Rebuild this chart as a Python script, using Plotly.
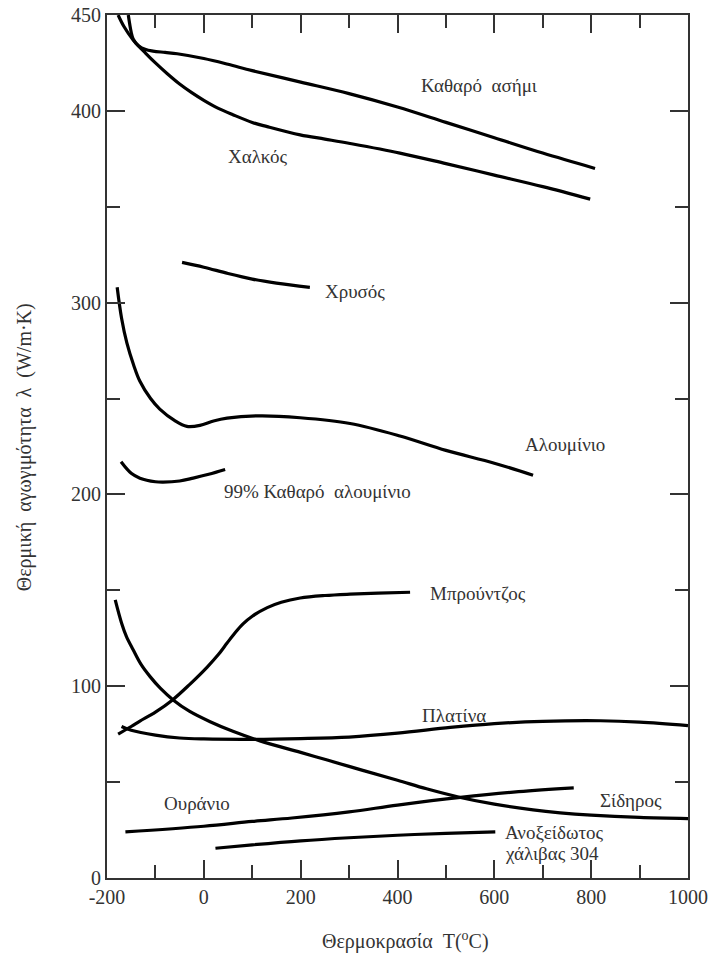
import plotly.graph_objects as go

# ---- data (T in °C, lambda in W/m·K) ----
silver_T = [-156, -150, -146, -135, -120, -105, -80, -55, 0, 50, 100, 200, 300, 400, 500, 600, 700, 808]
silver_k = [450, 441, 437.5, 434, 432, 431.2, 430.5, 429.8, 427.3, 424.3, 421, 415, 409, 402, 394, 386, 378, 370]

copper_T = [-177, -165, -146, -120, -100, -76, -50, -25, 0, 30, 60, 100, 131, 199, 250, 302, 405, 500, 600, 700, 798]
copper_k = [450, 444, 437, 430, 425, 419.5, 414, 409.5, 405.5, 401.3, 398, 394, 391.8, 387.5, 385.3, 383, 378, 372.5, 366.5, 360.5, 354]

gold_T = [-45, 0, 50, 100, 150, 219]
gold_k = [321, 318.5, 315.2, 312.3, 310.2, 308]

alu_T = [-179, -170, -159, -145, -132, -110, -91, -60, -35, -8, 20, 48, 116, 199, 302, 405, 500, 600, 680]
alu_k = [308, 292, 279, 267.5, 259, 250, 244.5, 238.5, 235.5, 236, 238.3, 239.8, 241, 240, 237, 230.5, 223, 216.3, 210]

alu99_T = [-171, -150, -132, -100, -84, -50, -22, 10, 44]
alu99_k = [217, 211, 208.5, 206.6, 206.4, 207, 208.5, 210.5, 213]

brass_T = [-177, -150, -132, -100, -64, -29, 7, 30, 48, 65, 81, 100, 131, 160, 199, 250, 302, 360, 426]
brass_k = [75, 79, 81.8, 86.5, 93, 101, 110, 116.5, 122.5, 128, 132.5, 136.5, 141, 143.8, 146, 147.3, 148, 148.5, 149]

platinum_T = [-170, -150, -100, -50, 0, 100, 200, 300, 400, 509, 600, 700, 819, 900, 1000]
platinum_k = [79, 77, 74.5, 73, 72.5, 72.3, 72.7, 73.5, 75.5, 78.5, 80.5, 81.7, 82, 81.3, 79.5]

iron_T = [-183, -170, -160, -146, -130, -111, -90, -64, -30, 13, 60, 116, 200, 255, 330, 400, 460, 530, 600, 680, 736, 800, 900, 1000]
iron_k = [145, 133, 126, 119, 111.5, 105, 99, 93, 87, 81.5, 76.5, 71.5, 65.5, 61.5, 56, 51, 46.5, 42, 38.5, 35.5, 34, 32.8, 31.6, 31]

uranium_T = [-162, 0, 100, 182, 300, 400, 530, 650, 764]
uranium_k = [24, 27, 29.5, 31.3, 34.5, 38, 42, 45, 47]

steel_T = [24, 100, 200, 300, 400, 500, 602]
steel_k = [15.5, 17.3, 19.4, 21, 22.3, 23.3, 24]

y_tickvals = [0, 100, 200, 300, 400, 450]
y_ticktext = ["0", "100", "200", "300", "400", "450"]
x_tickvals = [-200, 0, 200, 400, 600, 800, 1000]
x_ticktext = ["-200", "0", "200", "400", "600", "800", "1000"]

labels = ["Καθαρό  ασήμι", "Χαλκός", "Χρυσός", "Αλουμίνιο", "99% Καθαρό  αλουμίνιο",
          "Μπρούντζος", "Πλατίνα", "Ουράνιο", "Σίδηρος", "Ανοξείδωτος", "χάλιβας 304"]

x_title = "Θερμοκρασία  T(<sup>o</sup>C)"
y_title = "Θερμική  αγωγιμότητα  λ  (W/m·K)"

FONT = "Liberation Serif, Times New Roman, serif"
TXT = "#333333"

series = [
    (silver_T, silver_k), (copper_T, copper_k), (gold_T, gold_k), (alu_T, alu_k),
    (alu99_T, alu99_k), (brass_T, brass_k), (platinum_T, platinum_k), (iron_T, iron_k),
    (uranium_T, uranium_k), (steel_T, steel_k),
]

fig = go.Figure()
for T, k in series:
    fig.add_trace(go.Scatter(
        x=T, y=k, mode="lines",
        line=dict(color="black", width=3.2, shape="spline", smoothing=1.0),
        showlegend=False, hoverinfo="skip", cliponaxis=True,
    ))

# label anchor positions (data coordinates)
label_pos = [
    (569, 413.5, "center"), (110, 376, "center"), (312, 305.7, "center"),
    (746, 226, "center"), (38, 201.5, "left"), (463, 148.6, "left"),
    (447, 84.5, "left"), (-87, 39, "left"), (815, 40.5, "left"),
    (618, 23.5, "left"), (618, 13, "left"),
]
for (lx, ly, anc), txt in zip(label_pos, labels):
    fig.add_annotation(
        x=lx, y=ly, xref="x", yref="y", text=txt, showarrow=False,
        xanchor=anc, yanchor="middle", align="left",
        font=dict(family=FONT, size=19, color=TXT),
    )

fig.add_annotation(
    x=0.513, y=-0.073, xref="paper", yref="paper", text=x_title, showarrow=False,
    xanchor="center", yanchor="middle", font=dict(family=FONT, size=20, color=TXT),
)
fig.add_annotation(
    x=-0.143, y=0.499, xref="paper", yref="paper", text=y_title, showarrow=False,
    textangle=-90, xanchor="center", yanchor="middle",
    font=dict(family=FONT, size=20, color=TXT),
)

axis_common = dict(
    showgrid=False, zeroline=False, showline=True, linecolor="#333333", linewidth=2,
    ticks="inside", ticklen=18, tickwidth=2, tickcolor="#333333", mirror="ticks",
    tickfont=dict(family=FONT, size=20, color=TXT), automargin=False,
)

fig.update_xaxes(
    range=[-200, 1000], tickmode="array", tickvals=x_tickvals, ticktext=x_ticktext,
    minor=dict(ticks="inside", ticklen=13, tickwidth=2, tickcolor="#333333",
               tickmode="linear", tick0=-200, dtick=100),
    **axis_common,
)
fig.update_yaxes(
    range=[0, 450], tickmode="array", tickvals=y_tickvals, ticktext=y_ticktext,
    minor=dict(ticks="inside", ticklen=13, tickwidth=2, tickcolor="#333333",
               tickmode="linear", tick0=0, dtick=50),
    **axis_common,
)

fig.update_layout(
    width=709, height=955,
    margin=dict(l=107, r=21, t=15, b=77, autoexpand=False),
    paper_bgcolor="white", plot_bgcolor="white",
    font=dict(family=FONT, color=TXT),
)

# remove the default 8 px page margin so the figure fills the window exactly
fig.write_html(
    "out.html",
    config={"displayModeBar": False},
    post_script="document.body.style.margin='0';document.body.style.overflow='hidden';",
)
